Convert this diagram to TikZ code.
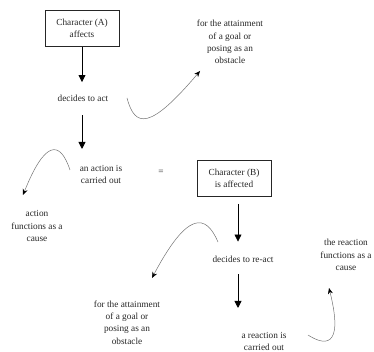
\documentclass[tikz,border=0pt]{standalone}
\usepackage{fontspec}
\setmainfont{Liberation Serif}
\usetikzlibrary{arrows.meta}
\begin{document}
\begin{tikzpicture}[x=1pt,y=-1pt,
  every node/.style={font=\fontsize{9.3}{12.4}\selectfont, text=black!85, align=center, inner sep=0pt},
  charbox/.style={draw=black!85, line width=0.7pt, minimum width=74pt, minimum height=36pt},
  flow/.style={draw=black, line width=0.8pt, -{Triangle[length=7pt,width=7pt]}},
  loop/.style={draw=black!55, line width=0.5pt, -{Stealth[black,length=6pt,width=5pt]}}]
\useasboundingbox (0,0) rectangle (374,352);
\clip (0,0) rectangle (374,352);

% main chain
\node[charbox] (ca) at (82,28.5) {Character (A)\\affects};
\node (act) at (83,98) {decides to act};
\node (done) at (101,174.5) {an action is\\carried out};
\node (eq) at (161,172) {=};
\node[charbox] (cb) at (234,178.5) {Character (B)\\is affected};
\node (react) at (243,259) {decides to re-act};
\node (rdone) at (264,341.5) {a reaction is\\carried out};

% side labels
\node (goal1) at (230,42) {for the attainment\\of a goal or\\posing as an\\obstacle};
\node (cause1) at (37,226) {action\\functions as a\\cause};
\node (goal2) at (127,322.5) {for the attainment\\of a goal or\\posing as an\\obstacle};
\node (cause2) at (346,255) {the reaction\\functions as a\\cause};

% straight arrows
\draw[flow, shorten >=12.5pt] (ca.south) -- (ca.south |- act.north);
\draw[flow, shorten <=14pt, shorten >=16pt] (ca.south |- act.south) -- (ca.south |- done.north);
\draw[flow, shorten <=7pt, shorten >=14pt] ([xshift=4pt]cb.south) -- ([xshift=4pt]cb.south |- react.north);
\draw[flow, shorten <=12pt, shorten >=24pt] ([xshift=4pt]cb.south |- react.south) -- ([xshift=4pt]cb.south |- rdone.north);

% curved arrows
\draw[loop] ([shift={(44,0)}]act.center) .. controls (135,128) and (150,130) .. ([shift={(-30,29)}]goal1.center);
\draw[loop] ([shift={(-31,-4.5)}]done.center) .. controls (60,140) and (45,140) .. ([shift={(-14,-31)}]cause1.center);
\draw[loop] ([shift={(-25,-17)}]react.center) .. controls (206,214) and (188,210) .. ([shift={(25,-44.5)}]goal2.center);
\draw[loop] ([shift={(44,-6.5)}]rdone.center) .. controls (322,344) and (345,352) .. ([shift={(-17,33)}]cause2.center);
\end{tikzpicture}
\end{document}
